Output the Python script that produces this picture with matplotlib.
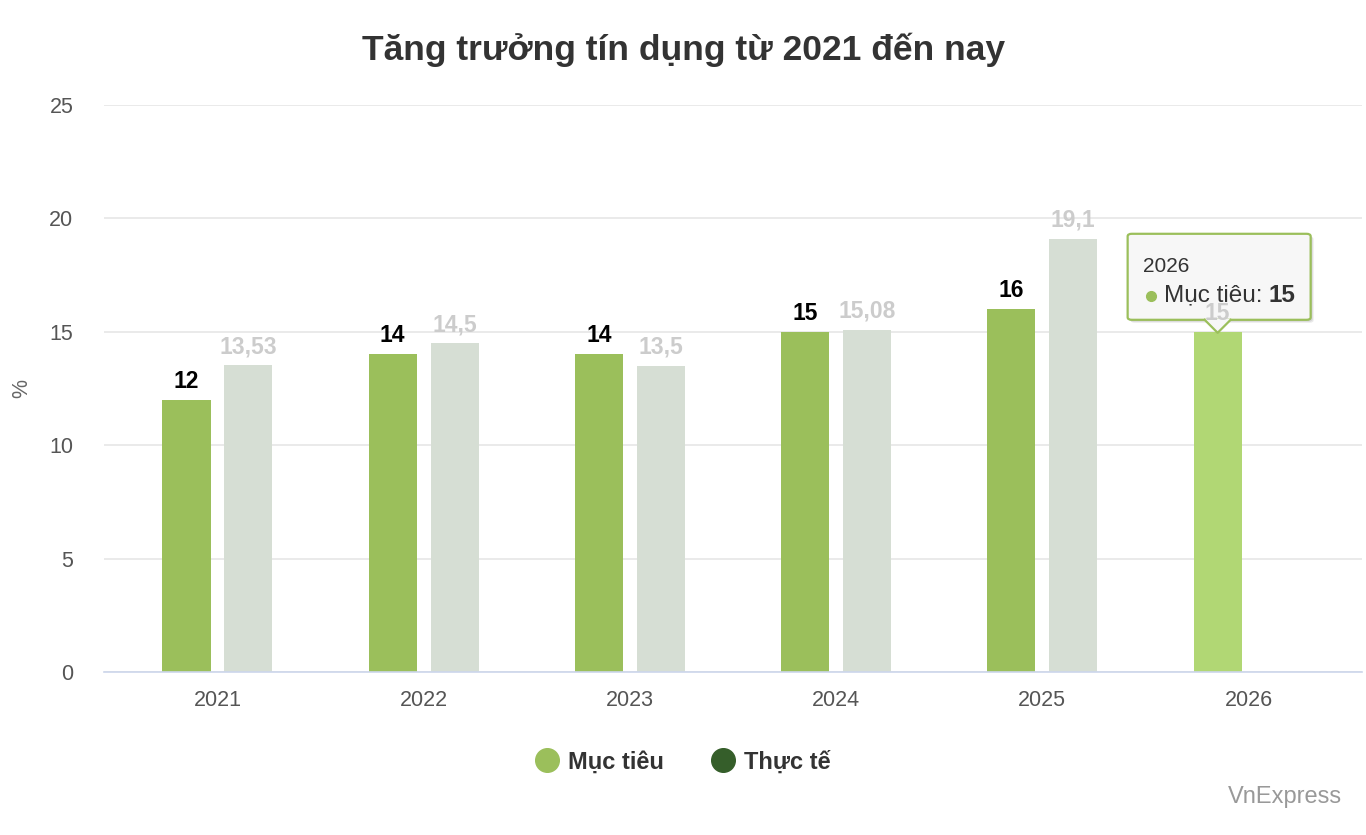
import numpy as np
import matplotlib
matplotlib.use("Agg")
import matplotlib.pyplot as plt
from matplotlib.lines import Line2D
from matplotlib.patches import FancyBboxPatch, Polygon

plt.rcParams['font.family'] = ['Liberation Sans', 'DejaVu Sans']

years = ['2021', '2022', '2023', '2024', '2025', '2026']
target = [12, 14, 14, 15, 16, 15]
actual = [13.53, 14.5, 13.5, 15.08, 19.1, None]
target_labels = ['12', '14', '14', '15', '16', '15']
actual_labels = ['13,53', '14,5', '13,5', '15,08', '19,1', '']

green = '#9bbf5b'
green_hover = '#b1d774'
gray_bar = '#d6ded4'
dark_green = '#355e2a'

W, H = 1366, 835
fig = plt.figure(figsize=(W / 100, H / 100), dpi=100)
ax = fig.add_axes([104 / W, (H - 672) / H, 1258 / W, (672 - 105) / H])

x = np.arange(len(years))
off = 0.15
bw = 0.233

tcolors = [green] * (len(years) - 1) + [green_hover]
ax.bar(x - off, target, width=bw, color=tcolors, zorder=2)
ax_idx = [i for i, v in enumerate(actual) if v is not None]
ax.bar(x[ax_idx] + off, [actual[i] for i in ax_idx], width=bw, color=gray_bar, zorder=2)

for i in range(len(years)):
    last = i == len(years) - 1
    ax.annotate(target_labels[i], (x[i] - off, target[i]), xytext=(0, 7),
                textcoords='offset pixels', ha='center', va='bottom',
                fontsize=16.5, fontweight='bold', color='#cccccc' if last else 'black',
                zorder=11 if last else 3, annotation_clip=False)
    if actual[i] is not None:
        ax.annotate(actual_labels[i], (x[i] + off, actual[i]), xytext=(0, 7),
                    textcoords='offset pixels', ha='center', va='bottom',
                    fontsize=16.5, fontweight='bold', color='#cccccc', zorder=3)

ax.set_xlim(-0.55, 5.55)
ax.set_ylim(0, 25)
ax.set_yticks([0, 5, 10, 15, 20, 25])
ax.set_xticks(x)
ax.set_xticklabels(years)
ax.tick_params(axis='both', length=0, labelsize=15.5, colors='#555555')
ax.tick_params(axis='y', pad=22)
ax.tick_params(axis='x', pad=13)
ax.grid(axis='y', color='#e6e6e6', linewidth=1.2, zorder=0)
ax.set_axisbelow(True)
for s in ['top', 'right', 'left']:
    ax.spines[s].set_visible(False)
ax.spines['bottom'].set_color('#ccd6eb')
ax.spines['bottom'].set_linewidth(1.2)
ax.set_ylabel('%', fontsize=15.5, color='#666666')
ax.yaxis.set_label_coords((32 - 104) / 1258, (672 - 388) / (672 - 105))

fig.text(0.5, 1 - 50 / H, 'Tăng trưởng tín dụng từ 2021 đến nay', ha='center', va='center',
         fontsize=25.5, fontweight='bold', color='#333333')

handles = [Line2D([], [], marker='o', linestyle='', markersize=17, color=green),
           Line2D([], [], marker='o', linestyle='', markersize=17, color=dark_green)]
fig.legend(handles, ['Mục tiêu', 'Thực tế'], loc='center', bbox_to_anchor=(683 / W, 1 - 762 / H),
           ncol=2, frameon=False, handletextpad=0.4, columnspacing=2.0,
           prop={'weight': 'bold', 'size': 17}, labelcolor='#333333', handlelength=1.0)

fig.text(1342 / W, 1 - 797 / H, 'VnExpress', ha='right', va='center', fontsize=17, color='#999999')

# tooltip anchored on the 2026 target bar
px, py = ax.transData.transform((x[-1] - off, target[-1]))
py_img = H - py + 3
def fp(dx, dy):
    return ((px + dx) / W, (H - (py_img + dy)) / H)

def add_patch(p):
    p.set_transform(fig.transFigure)
    p.set_clip_on(False)
    ax.add_patch(p)

l, r, t, b = -90, 93, -101, -15
for sh in [(3, 3), (2, 2), (1, 1)]:
    x0, y0 = fp(l + sh[0], b + sh[1])
    x1, y1 = fp(r + sh[0], t + sh[1])
    add_patch(FancyBboxPatch((x0, y0), x1 - x0, y1 - y0,
                             boxstyle='round,pad=0,rounding_size=0.003',
                             facecolor='black', edgecolor='none', alpha=0.08, zorder=8))
x0, y0 = fp(l, b)
x1, y1 = fp(r, t)
add_patch(FancyBboxPatch((x0, y0), x1 - x0, y1 - y0,
                         boxstyle='round,pad=0,rounding_size=0.003',
                         facecolor='#f7f7f7', edgecolor=green, linewidth=1.6, zorder=9))
tri = [fp(-13, b - 1), fp(13, b - 1), fp(0, -2)]
add_patch(Polygon(tri, closed=True, facecolor='#f7f7f7', edgecolor='none', zorder=9.5))
ax.add_line(Line2D([tri[0][0], tri[2][0], tri[1][0]], [fp(-13, b)[1], tri[2][1], fp(13, b)[1]],
                   transform=fig.transFigure, color=green, linewidth=1.6, zorder=10,
                   clip_on=False))

tx, ty = fp(l + 15, t + 33)
ax.text(tx, ty, '2026', ha='left', va='center', fontsize=15, color='#333333', zorder=13,
        transform=fig.transFigure)
dx, dy = fp(l + 23, t + 62)
ax.add_line(Line2D([dx], [dy], marker='o', markersize=7, color=green,
                   transform=fig.transFigure, zorder=13, clip_on=False))
lx, ly = fp(l + 36, t + 62)
t1 = ax.text(lx, ly, 'Mục tiêu: ', ha='left', va='center', fontsize=17.5, color='#333333',
             zorder=13, transform=fig.transFigure)
renderer = fig.canvas.get_renderer()
bb = t1.get_window_extent(renderer)
ax.text(bb.x1 / W, ly, '15', ha='left', va='center', fontsize=17.5, fontweight='bold',
        color='#333333', zorder=13, transform=fig.transFigure)

fig.savefig('out.png', dpi=100)
